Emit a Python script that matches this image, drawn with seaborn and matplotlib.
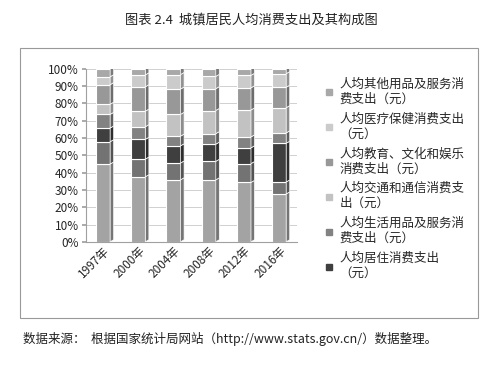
import numpy as np
import pandas as pd
import matplotlib
matplotlib.use("Agg")
import matplotlib.pyplot as plt
import seaborn as sns
from matplotlib.patches import Polygon, Rectangle
from matplotlib.lines import Line2D
from matplotlib.ticker import PercentFormatter

years = ['1997年', '2000年', '2004年', '2008年', '2012年', '2016年']

# shares of total spending (%), bottom of the stack first
food = [45.0, 37.6, 35.8, 35.8, 34.3, 27.7]
clothing = [12.9, 10.2, 9.7, 10.7, 10.9, 6.9]
housing = [7.9, 11.4, 9.9, 9.9, 9.1, 22.4]
household = [7.9, 7.3, 5.6, 6.1, 6.3, 6.0]
transport = [5.9, 9.0, 12.6, 13.4, 15.6, 14.6]
education = [11.3, 14.1, 14.6, 12.6, 12.8, 11.8]
medical = [4.6, 6.9, 8.4, 7.1, 7.2, 7.9]
other = [4.6, 3.5, 3.3, 4.4, 3.8, 2.8]

series_names = [
    '人均食品烟酒消费支出（元）',
    '人均衣着消费支出（元）',
    '人均居住消费支出（元）',
    '人均生活用品及服务消费支出（元）',
    '人均交通和通信消费支出（元）',
    '人均教育、文化和娱乐消费支出（元）',
    '人均医疗保健消费支出（元）',
    '人均其他用品及服务消费支出（元）',
]
series_values = [food, clothing, housing, household, transport, education, medical, other]
colors = ['#a3a3a3', '#737373', '#3f3f3f', '#828282', '#c2c2c2', '#989898', '#cbcbcb', '#a8a8a8']

# legend shows the top six series only, wrapped as in the original
legend_labels = [
    '人均其他用品及服务消\n费支出（元）',
    '人均医疗保健消费支出\n（元）',
    '人均教育、文化和娱乐\n消费支出（元）',
    '人均交通和通信消费支\n出（元）',
    '人均生活用品及服务消\n费支出（元）',
    '人均居住消费支出\n（元）',
]

sns.set_theme(style='white')
plt.rcParams['font.family'] = ['Noto Sans CJK SC', 'DejaVu Sans']

vals = np.array(series_values, dtype=float)
vals = vals / vals.sum(axis=0) * 100

fig = plt.figure(figsize=(5.03, 3.72), dpi=100)
ax = fig.add_axes([0.17, 0.35, 0.42, 0.465])

bottom = np.zeros(len(years))
for name, v, c in zip(series_names, vals, colors):
    df = pd.DataFrame({'year': years, 'share': v})
    sns.barplot(data=df, x='year', y='share', order=years, color=c,
                width=0.4, bottom=bottom, edgecolor='white', linewidth=0.8,
                saturation=1, ax=ax)
    bottom = bottom + v

# fake 3D depth: side face and top face derived from each bar
d, e = 0.1, 1.2
bars = list(ax.patches)
for p in bars:
    x, y, w, h = p.get_x(), p.get_y(), p.get_width(), p.get_height()
    fc = np.array(p.get_facecolor()[:3])
    side = Polygon([(x + w, y), (x + w + d, y + e), (x + w + d, y + h + e), (x + w, y + h)],
                   closed=True, facecolor=fc * 0.72, edgecolor='white', linewidth=0.5)
    ax.add_patch(side)
    if y + h > 99.5:
        top = Polygon([(x, y + h), (x + d, y + h + e), (x + w + d, y + h + e), (x + w, y + h)],
                      closed=True, facecolor=np.minimum(fc * 1.1, 1), edgecolor='white', linewidth=0.5)
        ax.add_patch(top)

ax.set_ylim(0, 100)
ax.set_xlim(-0.5, len(years) - 0.5)
ax.set_yticks(np.arange(0, 101, 10))
ax.yaxis.set_major_formatter(PercentFormatter(decimals=0))
ax.grid(axis='y', color='#d0d0d0', linewidth=0.7)
ax.set_axisbelow(True)
ax.set_xlabel('')
ax.set_ylabel('')
for s in ['top', 'right']:
    ax.spines[s].set_visible(False)
for s in ['left', 'bottom']:
    ax.spines[s].set_color('#a0a0a0')
    ax.spines[s].set_linewidth(0.8)
ax.tick_params(axis='y', labelsize=8.5, length=3, color='#a0a0a0', pad=2, left=True)
ax.tick_params(axis='x', labelsize=8.5, length=0, pad=2)
plt.setp(ax.get_xticklabels(), rotation=45, ha='right', rotation_mode='anchor')

handles = [Line2D([0], [0], marker='s', linestyle='', markersize=4,
                  markerfacecolor=colors[i], markeredgecolor=colors[i])
           for i in [7, 6, 5, 4, 3, 2]]
fig.legend(handles, legend_labels, loc='upper left', bbox_to_anchor=(0.635, 0.805),
           frameon=False, fontsize=9, labelspacing=0.55, handlelength=0.8,
           handletextpad=0.4, borderaxespad=0)

fig.text(0.5, 0.945, '图表 2.4  城镇居民人均消费支出及其构成图', ha='center', va='center',
         fontsize=9.5, color='#222222')
fig.patches.append(Rectangle((0.04, 0.145), 0.91, 0.725, transform=fig.transFigure,
                             fill=False, edgecolor='#999999', linewidth=0.8))
fig.text(0.045, 0.09, '数据来源：  根据国家统计局网站（http://www.stats.gov.cn/）数据整理。',
         ha='left', va='center', fontsize=9, color='#222222')

fig.savefig('out.png', dpi=100, facecolor='white')
